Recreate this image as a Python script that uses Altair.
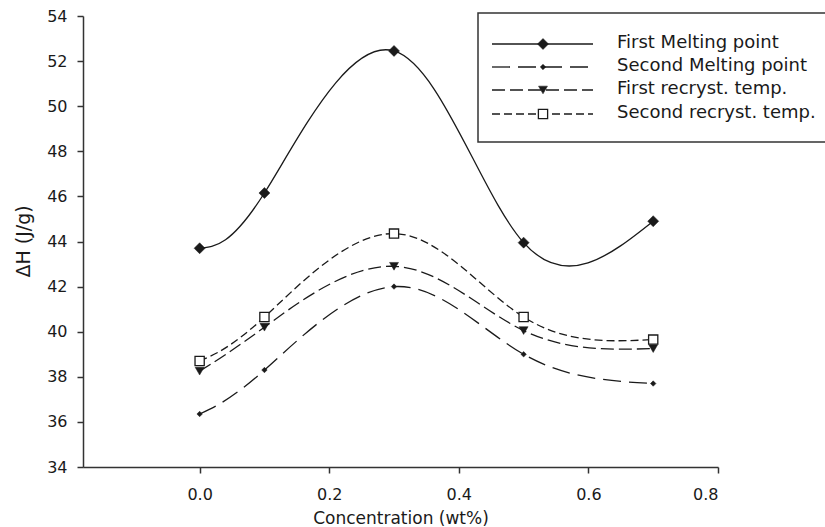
import altair as alt
import pandas as pd

# ---- data ----
concentration = [0.0, 0.1, 0.3, 0.5, 0.7]
first_melting = [43.7, 46.15, 52.45, 43.95, 44.9]
second_melting = [36.35, 38.3, 42.0, 39.0, 37.7]
first_recryst = [38.25, 40.2, 42.9, 40.05, 39.25]
second_recryst = [38.7, 40.65, 44.35, 40.65, 39.65]
series_labels = ["First Melting point", "Second Melting point",
                 "First recryst. temp.", "Second recryst. temp."]
x_ticks = [0.0, 0.2, 0.4, 0.6, 0.8]
y_ticks = [34, 36, 38, 40, 42, 44, 46, 48, 50, 52, 54]
x_title = "Concentration (wt%)"
y_title = "ΔH (J/g)"

INK = "#1a1a1a"
FONT = "DejaVu Sans"

series_values = [first_melting, second_melting, first_recryst, second_recryst]
styles = [
    dict(dash=None, shape="diamond", size=121, open=False),
    dict(dash=[18, 8], shape="diamond", size=30, open=False),
    dict(dash=[13, 5], shape="triangle-down", size=80, open=False),
    dict(dash=[8, 4], shape="square", size=85, open=True),
]

x_enc = alt.X(
    "conc:Q",
    scale=alt.Scale(domain=[-0.18, 0.8], nice=False, zero=False),
    axis=alt.Axis(values=x_ticks, format=".1f", title=x_title,
                  labelPadding=13, tickSize=6,
                  titleBaseline="alphabetic", titleY=56, titleFontSize=17),
)
y_enc = alt.Y(
    "val:Q",
    scale=alt.Scale(domain=[34, 54], nice=False, zero=False),
    axis=alt.Axis(values=y_ticks, format="d", title=y_title,
                  labelPadding=10, tickSize=6,
                  titleBaseline="middle", titleX=-60, titleY=225,
                  titleFontSize=19, titleAngle=-90),
)

line_layers = []
point_layers = []
for label, vals, st in zip(series_labels, series_values, styles):
    df = pd.DataFrame({"conc": concentration, "val": vals, "series": label})
    line_kw = dict(interpolate="natural", color=INK, strokeWidth=1.3)
    if st["dash"] is not None:
        line_kw["strokeDash"] = st["dash"]
    line_layers.append(alt.Chart(df).mark_line(**line_kw).encode(x=x_enc, y=y_enc))
    if st["open"]:
        pt = alt.Chart(df).mark_point(shape=st["shape"], size=st["size"], filled=True,
                                      fill="white", stroke=INK, strokeWidth=1.3, opacity=1)
    else:
        pt = alt.Chart(df).mark_point(shape=st["shape"], size=st["size"], filled=True,
                                      fill=INK, stroke=INK, strokeWidth=0.5, opacity=1)
    point_layers.append(pt.encode(x=x_enc, y=y_enc))

# ---- hand-made legend (layout positions only) ----
one = pd.DataFrame({"k": [0]})
legend_layers = [
    alt.Chart(one).mark_rect(fill="white", stroke="#333", strokeWidth=1.5).encode(
        x=alt.value(395), x2=alt.value(760), y=alt.value(-3), y2=alt.value(126))
]
row_y = [28, 51, 74, 98]
for label, st, ry in zip(series_labels, styles, row_y):
    rule_kw = dict(color=INK, strokeWidth=1.3)
    if st["dash"] is not None:
        rule_kw["strokeDash"] = st["dash"]
    legend_layers.append(alt.Chart(one).mark_rule(**rule_kw).encode(
        x=alt.value(409), x2=alt.value(510), y=alt.value(ry)))
    if st["open"]:
        mk = alt.Chart(one).mark_point(shape=st["shape"], size=st["size"], filled=True,
                                       fill="white", stroke=INK, strokeWidth=1.3, opacity=1)
    else:
        mk = alt.Chart(one).mark_point(shape=st["shape"], size=st["size"], filled=True,
                                       fill=INK, stroke=INK, strokeWidth=0.5, opacity=1)
    legend_layers.append(mk.encode(x=alt.value(460), y=alt.value(ry)))
    ldf = pd.DataFrame({"label": [label]})
    legend_layers.append(alt.Chart(ldf).mark_text(
        align="left", baseline="middle", font=FONT, fontSize=18, color=INK).encode(
        x=alt.value(534), y=alt.value(ry - 1), text="label:N"))

chart = alt.layer(*line_layers, *point_layers, *legend_layers).properties(
    width=635, height=451,
    padding={"left": 83, "top": 16, "right": 107, "bottom": 60},
    autosize=alt.AutoSizeParams(type="none"),
    background="white",
).configure_view(stroke="transparent").configure_axis(
    grid=False, domainColor="#333", domainWidth=1.5, tickColor="#333", tickWidth=1.5,
    labelFont=FONT, labelFontSize=16, labelColor=INK,
    titleFont=FONT, titleColor=INK, titleFontWeight="normal",
)

chart.save("out.html", embed_options={"renderer": "svg", "actions": False})
